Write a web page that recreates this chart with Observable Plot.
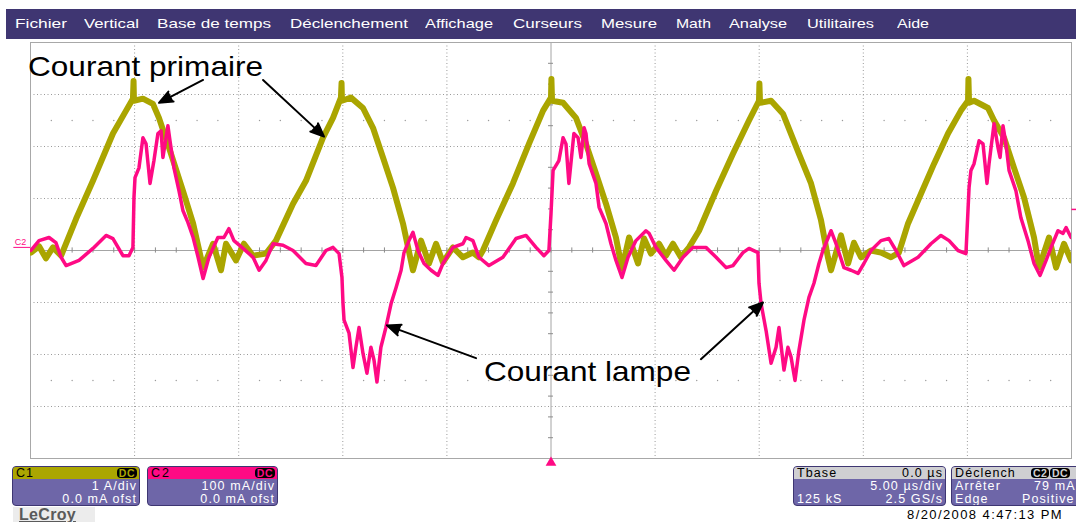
<!DOCTYPE html>
<html><head><meta charset="utf-8">
<script src="https://cdn.jsdelivr.net/npm/d3@7"></script>
<script src="https://cdn.jsdelivr.net/npm/@observablehq/plot@0.6"></script>
<style>
body{margin:0;background:#fff;font-family:"Liberation Sans",Arial,sans-serif;}
#wrap{position:relative;width:1076px;height:522px;overflow:hidden;background:#fff;}
#chart{position:absolute;left:0;top:0;}
#menu{position:absolute;left:6px;top:9px;width:1070px;height:30px;background:#3f3672;}
.mi{position:absolute;top:17px;color:#fff;font-size:13px;line-height:14px;white-space:nowrap;transform-origin:0 0;}
.box{position:absolute;top:466px;height:38px;background:#6e66a8;border:1px solid #3e3672;border-radius:4px;overflow:hidden;color:#fff;}
.hdr{position:absolute;left:0;top:0;right:0;height:12px;color:#000;}
.t{position:absolute;font-size:12.5px;line-height:13px;letter-spacing:1.1px;white-space:nowrap;}
.badge{position:absolute;top:1px;height:10px;line-height:10px;font-size:10.5px;font-weight:bold;background:#000;border-radius:4px;padding:0 2px;letter-spacing:0.5px;}
#lecroy{position:absolute;left:13px;top:507px;width:82px;height:15px;background:#ececec;}
#lecroy span{position:absolute;left:6px;top:-1px;font-size:16px;font-weight:bold;color:#5a5a5a;text-decoration:underline;letter-spacing:0.3px;}
#date{position:absolute;right:13px;top:507px;font-size:13px;letter-spacing:1.4px;color:#000;white-space:nowrap;}
</style></head>
<body>
<div id="wrap">
  <div id="chart"></div>
  <div id="menu"></div>
  <div class="box" style="left:12px;width:126px">
    <div class="hdr" style="background:#aba600"><span class="t" style="left:3px;top:0px;letter-spacing:1px">C1</span><span class="badge" style="right:2px;color:#aba600">DC</span></div>
    <span class="t" style="right:2px;top:13px">1 A/div</span>
    <span class="t" style="right:2px;top:26px">0.0 mA ofst</span>
  </div>
  <div class="box" style="left:147px;width:129px">
    <div class="hdr" style="background:#ff0a84"><span class="t" style="left:3px;top:0px;letter-spacing:2px">C2</span><span class="badge" style="right:2px;color:#ff0a84">DC</span></div>
    <span class="t" style="right:2px;top:13px">100 mA/div</span>
    <span class="t" style="right:2px;top:26px">0.0 mA ofst</span>
  </div>
  <div class="box" style="left:793px;width:151px">
    <div class="hdr" style="background:#cfcfd2"><span class="t" style="left:3px;top:0px">Tbase</span><span class="t" style="right:2px;top:0px">0.0 µs</span></div>
    <span class="t" style="right:2px;top:13px">5.00 µs/div</span>
    <span class="t" style="left:3px;top:26px">125 kS</span>
    <span class="t" style="right:2px;top:26px">2.5 GS/s</span>
  </div>
  <div class="box" style="left:951px;width:130px">
    <div class="hdr" style="background:#cfcfd2"><span class="t" style="left:3px;top:0px">Déclench</span><span class="badge" style="left:79px;color:#cfcfd2">C2</span><span class="badge" style="left:98px;color:#cfcfd2">DC</span></div>
    <span class="t" style="left:3px;top:13px">Arrêter</span>
    <span class="t" style="left:82px;top:13px">79 mA</span>
    <span class="t" style="left:3px;top:26px">Edge</span>
    <span class="t" style="left:70px;top:26px">Positive</span>
  </div>
  <div id="lecroy"><span>LeCroy</span></div>
  <div id="date">8/20/2008 4:47:13 PM</div>
</div>
<script>
// ---- Data (time in µs, C1 in A, C2 in mA) ----
const c1Samples = [[-24.98,-0.04],[-24.59,0.08],[-24.26,-0.15],[-23.92,0.06],[-23.53,-0.10],[-22.81,0.61],[-22.00,1.34],[-21.04,2.25],[-20.41,2.69],[-20.08,2.92],[-20.05,3.26],[-20.03,2.88],[-19.60,2.92],[-19.12,2.82],[-18.83,2.55],[-18.35,1.98],[-17.68,1.15],[-17.19,0.52],[-16.71,-0.33],[-16.23,0.13],[-15.85,-0.38],[-15.61,0.13],[-15.13,-0.19],[-14.75,0.13],[-14.31,-0.10],[-13.69,-0.06],[-13.21,0.19],[-12.39,0.90],[-11.77,1.34],[-10.95,2.17],[-10.47,2.55],[-10.09,2.94],[-10.06,3.22],[-10.04,2.88],[-9.61,2.94],[-9.03,2.74],[-8.55,2.36],[-8.07,1.79],[-7.59,1.21],[-7.11,0.52],[-6.63,-0.38],[-6.24,0.19],[-5.86,-0.25],[-5.52,0.13],[-5.19,-0.23],[-4.71,0.06],[-4.23,-0.13],[-3.75,-0.04],[-3.46,-0.13],[-3.27,0],[-2.64,0.58],[-1.83,1.29],[-1.06,2.05],[-0.38,2.69],[0,2.94],[0.02,3.30],[0.05,2.88],[0.58,2.84],[1.20,2.55],[1.68,2.05],[2.16,1.48],[2.64,0.90],[3.12,0.25],[3.41,-0.35],[3.75,0.25],[4.18,-0.25],[4.47,0.23],[4.80,-0.06],[5.19,0.13],[5.52,-0.10],[5.86,0.13],[6.24,-0.13],[6.63,0.06],[7.11,0.38],[7.93,1.15],[8.74,1.86],[9.51,2.50],[9.99,2.88],[10.01,3.21],[10.04,2.84],[10.57,2.88],[11.14,2.63],[11.91,1.86],[12.49,1.29],[12.97,0.58],[13.30,-0.13],[13.45,-0.38],[13.93,0.29],[14.27,-0.25],[14.55,0.15],[14.89,-0.13],[15.37,0],[15.85,-0.04],[16.33,-0.13],[16.71,-0.04],[17.15,0.52],[17.77,1.09],[18.40,1.67],[19.07,2.25],[19.69,2.69],[20.03,2.88],[20.05,3.30],[20.08,2.84],[20.32,2.88],[20.99,2.74],[21.28,2.50],[21.76,2.17],[22.24,1.59],[22.72,1.02],[23.20,0.25],[23.44,-0.33],[23.92,0.25],[24.26,-0.33],[24.64,0.13],[24.98,-0.19]];

const c2Samples = [[-24.98,0],[-24.59,19],[-24.11,25],[-23.78,15],[-23.53,-13],[-23.29,-29],[-22.67,-19],[-22.00,4],[-21.37,29],[-21.04,23],[-20.56,-10],[-20.27,-10],[-20.08,6],[-20.03,102],[-19.98,140],[-19.79,159],[-19.60,217],[-19.45,205],[-19.26,129],[-19.07,173],[-18.88,225],[-18.73,230],[-18.64,179],[-18.40,240],[-18.30,211],[-18.11,159],[-17.87,115],[-17.68,77],[-17.44,54],[-17.19,25],[-16.95,-13],[-16.71,-54],[-16.43,-13],[-16.00,25],[-15.71,25],[-15.47,42],[-15.23,19],[-14.79,4],[-14.31,-13],[-14.02,-38],[-13.69,-19],[-13.35,13],[-12.87,10],[-12.39,0],[-11.77,-25],[-11.29,-29],[-10.81,0],[-10.47,6],[-10.18,-6],[-10.04,-52],[-9.99,-102],[-9.94,-134],[-9.70,-159],[-9.51,-225],[-9.37,-186],[-9.22,-148],[-9.03,-198],[-8.84,-236],[-8.65,-186],[-8.50,-211],[-8.36,-253],[-8.17,-186],[-7.93,-148],[-7.68,-102],[-7.44,-71],[-7.20,-38],[-7.06,-4],[-6.82,19],[-6.63,35],[-6.39,0],[-6.10,-25],[-5.76,-38],[-5.43,-48],[-5.19,-25],[-4.71,6],[-4.23,13],[-4.08,25],[-3.75,19],[-3.46,-13],[-2.98,-29],[-2.31,-13],[-1.68,23],[-1.20,29],[-0.72,6],[-0.34,-10],[-0.10,0],[0,71],[0.10,154],[0.38,173],[0.58,217],[0.72,205],[0.86,129],[1.10,225],[1.30,217],[1.44,179],[1.59,236],[1.68,225],[1.83,167],[2.16,129],[2.31,83],[2.64,52],[2.88,13],[3.12,-19],[3.41,-52],[3.70,-13],[4.08,19],[4.56,38],[4.71,33],[5.04,6],[5.52,-19],[5.91,-38],[6.34,-13],[6.82,6],[7.44,6],[7.93,-13],[8.41,-33],[8.74,-29],[9.22,-4],[9.51,4],[9.94,-4],[9.99,-63],[10.09,-102],[10.33,-154],[10.57,-217],[10.81,-186],[10.95,-148],[11.19,-230],[11.38,-186],[11.53,-205],[11.72,-250],[11.91,-192],[12.15,-134],[12.39,-90],[12.63,-63],[12.87,-25],[13.06,0],[13.45,38],[13.69,13],[14.07,-33],[14.41,-38],[14.75,-44],[15.03,-25],[15.37,0],[15.85,19],[16.23,23],[16.57,0],[16.95,-29],[17.63,-13],[18.25,13],[18.73,29],[19.12,19],[19.55,0],[19.93,-6],[20.08,121],[20.17,154],[20.32,167],[20.56,211],[20.75,205],[20.94,129],[21.04,167],[21.28,244],[21.47,198],[21.57,179],[21.71,240],[21.85,205],[22.00,154],[22.33,115],[22.57,63],[22.91,19],[23.20,-25],[23.49,-48],[23.78,-19],[24.02,6],[24.35,38],[24.59,33],[24.74,44],[24.98,25]];

const c1AmpsPerDiv = 1;       // 1 A/div
const c2mAPerDiv = 100;       // 100 mA/div
const triggerLevel_mA = 79;
const timeDivs = [-20, -15, -10, -5, 5, 10, 15, 20];   // µs grid lines (5 µs/div)
const voltDivs = [-3, -2, -1, 1, 2, 3];
const minorTimes = d3.range(-24, 25, 1);
const minorDivsY = [-3.6,-3.2,-2.8,-2.4,-1.6,-1.2,-0.8,-0.4,0.4,0.8,1.2,1.6,2.4,2.8,3.2,3.6];
const dotRows = [-2.5, 2.5];

const menuItems = ["Fichier","Vertical","Base de temps","Déclenchement","Affichage","Curseurs","Mesure","Math","Analyse","Utilitaires","Aide"];
const menuLeft = [15, 84, 157, 290, 425, 513, 601, 676, 729, 807, 897];
const menuWidth = [52, 55, 114, 118, 68, 69, 56, 35, 58, 67, 32];

const labels = [
  {t: -25.12, v: 3.36, text: "Courant primaire", len: 235},
  {t: -3.22, v: -2.50, text: "Courant lampe", len: 207}
];
const arrows = [
  {t1: -16.71, v1: 3.28, t2: -18.83, v2: 2.84},
  {t1: -13.83, v1: 3.28, t2: -10.90, v2: 2.19},
  {t1: -3.60, v1: -2.07, t2: -7.88, v2: -1.44},
  {t1: 7.20, v1: -2.09, t2: 10.18, v2: -1.00}
];

const YEL = "#aaa500", PINK = "#ff0a84";
const c1 = c1Samples.map(([t, a]) => ({t, div: a / c1AmpsPerDiv}));
const c2 = c2Samples.map(([t, ma]) => ({t, div: ma / c2mAPerDiv}));
const dotGrid = dotRows.flatMap(v => minorTimes.filter(t => t % 5 !== 0).map(t => ({t, v})));

const plot = Plot.plot({
  width: 1076, height: 522,
  marginLeft: 30, marginRight: 5, marginTop: 42, marginBottom: 64,
  x: {domain: [-25, 25], axis: null},
  y: {domain: [-4, 4], axis: null},
  style: {background: "transparent", fontFamily: "Liberation Sans, Arial, sans-serif"},
  marks: [
    Plot.ruleX(timeDivs, {stroke: "#9a9a9a", strokeDasharray: "1,2.5", strokeWidth: 1}),
    Plot.ruleY(voltDivs, {stroke: "#9a9a9a", strokeDasharray: "1,2.5", strokeWidth: 1}),
    Plot.ruleX([0], {stroke: "#a4a4a4"}),
    Plot.ruleY([0], {stroke: "#a4a4a4"}),
    Plot.ruleX(minorTimes, {x: d => d, y1: -0.05, y2: 0.05, stroke: "#8c8c8c"}),
    Plot.ruleY(minorDivsY, {y: d => d, x1: -0.12, x2: 0.12, stroke: "#8c8c8c"}),
    Plot.dot(dotGrid, {x: "t", y: "v", r: 0.7, fill: "#9a9a9a", stroke: null}),
    Plot.frame({stroke: "#a8a8a8"}),
    Plot.line(c1, {x: "t", y: "div", stroke: YEL, strokeWidth: 6, strokeLinejoin: "round", clip: true}),
    Plot.line(c2, {x: "t", y: "div", stroke: PINK, strokeWidth: 3.5, strokeLinejoin: "round", clip: true}),
    Plot.text([{t: -25.2, v: 0.1}], {x: "t", y: "v", text: () => "C2", textAnchor: "end", lineAnchor: "bottom", fontSize: 9, fill: PINK}),
    Plot.ruleY([0.06], {y: d => d, x1: -25.8, x2: -25.0, stroke: PINK}),
    Plot.ruleY([triggerLevel_mA / c2mAPerDiv], {y: d => d, x1: 25.02, x2: 25.25, stroke: PINK, strokeWidth: 1.5}),
    Plot.dot([0], {x: d => d, y: -4.08, symbol: "triangle", r: 4, fill: PINK, stroke: null}),
    Plot.arrow(arrows, {x1: "t1", y1: "v1", x2: "t2", y2: "v2", stroke: "#000", strokeWidth: 2, headLength: 11, headAngle: 45}),
    Plot.text(labels, {x: "t", y: "v", text: "text", textAnchor: "start", lineAnchor: "bottom", fontSize: 28, fill: "#000"})
  ]
});
document.getElementById("chart").appendChild(plot);

// filled arrowheads
plot.querySelectorAll('g[aria-label="arrow"] path').forEach(p => p.setAttribute("fill", "#000"));
// stretch annotation texts to their measured widths
plot.querySelectorAll("text").forEach(el => {
  const lab = labels.find(l => l.text === el.textContent);
  if (lab) { el.setAttribute("textLength", lab.len); el.setAttribute("lengthAdjust", "spacingAndGlyphs"); }
});

// menu bar
const wrap = document.getElementById("wrap");
menuItems.forEach((m, i) => {
  const s = document.createElement("span");
  s.className = "mi"; s.textContent = m;
  s.style.left = menuLeft[i] + "px";
  wrap.appendChild(s);
  const w = s.getBoundingClientRect().width;
  s.style.transform = `scaleX(${menuWidth[i] / w})`;
});
</script>
</body></html>
